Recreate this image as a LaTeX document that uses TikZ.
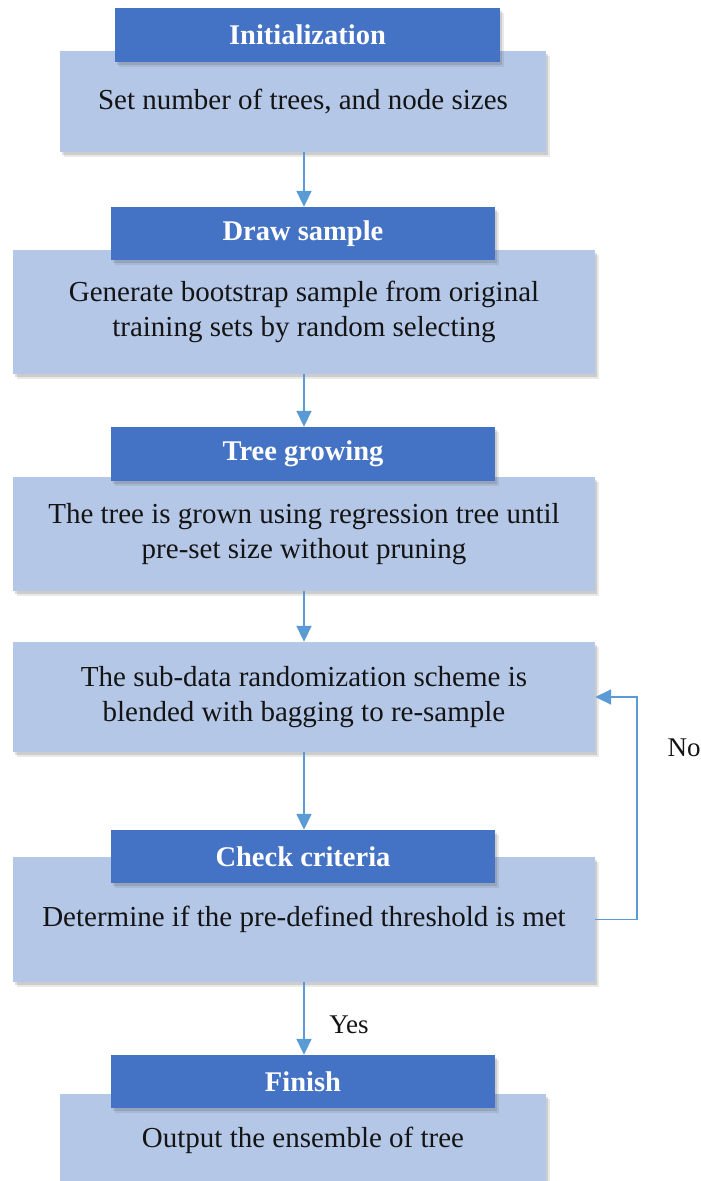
\documentclass[tikz,border=0pt]{standalone}
\usepackage{fontspec}
\setmainfont{Liberation Serif}
\usetikzlibrary{arrows.meta,shadows}
\definecolor{hdr}{HTML}{4472C4}
\definecolor{lite}{HTML}{B4C7E7}
\definecolor{arr}{HTML}{5B9BD5}
\definecolor{ink}{HTML}{141414}
\tikzset{
  shade/.style={drop shadow={shadow xshift=2pt, shadow yshift=-3pt, opacity=0.18, fill=black!70},
                drop shadow={shadow xshift=4pt, shadow yshift=-5pt, opacity=0.12, fill=black!70}},
  lightbox/.style={shade, fill=lite, draw=none, inner sep=0pt, align=center, text=ink,
    font=\fontsize{29}{35}\selectfont},
  hdrbox/.style={shade, fill=hdr, draw=none, inner sep=0pt, align=center, text=white,
    font=\fontsize{28.5}{34}\selectfont\bfseries, minimum width=384pt, minimum height=53pt},
  flow/.style={draw=arr, line width=1.8pt, -{Triangle[width=15pt,length=16pt,fill=arr]}},
  lbl/.style={inner sep=0pt, text=ink, font=\fontsize{27}{32}\selectfont}
}
\begin{document}
\begin{tikzpicture}[x=1pt,y=-1pt]
\useasboundingbox (0,0) rectangle (701,1181);
\fill[white] (0,0) rectangle (701,1181);
% box 1
\node[lightbox, minimum width=486pt, minimum height=101pt] (b1) at (303,101.5) {Set number of trees, and node sizes};
\node[hdrbox, minimum width=385pt, minimum height=54pt] (h1) at (307.5,35) {Initialization};
% box 2
\node[lightbox, minimum width=582pt, minimum height=124pt] (b2) at (304,312) {Generate bootstrap sample from original\\training sets by random selecting};
\node[hdrbox] (h2) at (303,233.5) {Draw sample};
% box 3
\node[lightbox, minimum width=582pt, minimum height=114pt] (b3) at (304,534) {The tree is grown using regression tree until\\pre-set size without pruning};
\node[hdrbox, minimum height=54pt] (h3) at (303,454) {Tree growing};
% box 4
\node[lightbox, minimum width=582pt, minimum height=110pt] (b4) at (304,697) {The sub-data randomization scheme is\\blended with bagging to re-sample};
% box 5
\node[lightbox, minimum width=582pt, minimum height=125pt] (b5) at (304,919.5) {Determine if the pre-defined threshold is met};
\node[hdrbox] (h5) at (303,856.5) {Check criteria};
% box 6
\node[lightbox, minimum width=486pt, minimum height=92pt] (b6) at (303,1140) {Output the ensemble of tree};
\node[hdrbox] (h6) at (303,1081.5) {Finish};
% connectors
\draw[flow] (304,152) coordinate (s1) -- (s1 |- h2.north);
\draw[flow] (b2.south) -- (b2.south |- h3.north);
\draw[flow] (b3.south) -- (b4.north);
\draw[flow] (b4.south) -- (b4.south |- h5.north);
\draw[flow] (b5.south) -- (b5.south |- h6.north);
\draw[flow] (b5.east) -- ++(42,0) |- (b4.east);
\node[lbl] (no) at (684,748) {No};
\node[lbl] (yes) at (349,1025) {Yes};
\end{tikzpicture}
\end{document}
